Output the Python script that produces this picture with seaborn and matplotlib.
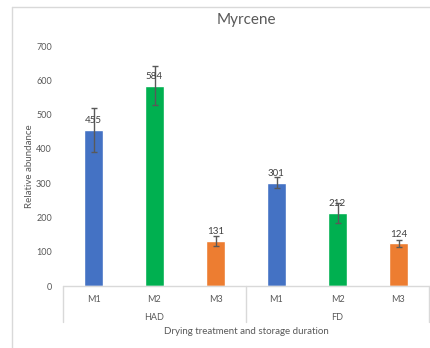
import matplotlib
matplotlib.use("Agg")
import matplotlib.pyplot as plt
from matplotlib.lines import Line2D
import seaborn as sns
import pandas as pd

# Myrcene relative abundance by drying treatment and storage duration
treatments = ["HAD", "HAD", "HAD", "FD", "FD", "FD"]
storage = ["M1", "M2", "M3", "M1", "M2", "M3"]
abundance = [455, 584, 131, 301, 212, 124]
errors = [64, 57, 14, 16, 29, 11]
yticks = [0, 100, 200, 300, 400, 500, 600, 700]

sns.set_theme(style="white")
plt.rcParams["font.family"] = ["Lato", "DejaVu Sans"]

text_gray = "#595959"
line_gray = "#D9D9D9"
colors = {"M1": "#4472C4", "M2": "#00B050", "M3": "#ED7D31"}

df = pd.DataFrame({
    "key": [f"{t}-{s}" for t, s in zip(treatments, storage)],
    "storage": storage,
    "abundance": abundance,
})

fig = plt.figure(figsize=(4.31, 3.48), dpi=100)
ax = fig.add_axes([63 / 431, 62 / 348, 366 / 431, 240 / 348])

sns.barplot(data=df, x="key", y="abundance", hue="storage", palette=colors,
            dodge=False, width=0.32, legend=False, ax=ax, errorbar=None,
            saturation=1)

# bar centres come from the drawn patches
bars = sorted(ax.patches, key=lambda p: p.get_x())
centers = [b.get_x() + b.get_width() / 2 for b in bars]

ax.errorbar(centers, abundance, yerr=errors, fmt="none", ecolor=text_gray,
            elinewidth=1, capsize=2.2, capthick=1)

for cx, v in zip(centers, abundance):
    ax.annotate(f"{v}", (cx, v), xytext=(0, 3.5), textcoords="offset points",
                ha="center", va="bottom", fontsize=7, color="#404040")

ax.set_ylim(0, 700)
ax.set_xlim(-0.5, 5.5)
ax.set_yticks(yticks)
ax.set_yticklabels([str(t) for t in yticks], fontsize=6.5, color=text_gray)
ax.tick_params(axis="y", length=0, pad=8)
ax.set_xticks([])
ax.set_xlabel("")
ax.set_ylabel("Relative abundance", fontsize=7, color=text_gray)
ax.yaxis.set_label_coords(-29 / 366, 0.5)
for s in ax.spines.values():
    s.set_visible(False)

fig.text(246 / 431, 1 - 20 / 348, "Myrcene", ha="center", va="center",
         fontsize=11, color=text_gray)

# category table under the bars
tr = ax.get_xaxis_transform()
ax.plot([-0.5, 5.5], [0, 0], color=line_gray, lw=1, transform=tr, clip_on=False)
for xv in [-0.5, 2.5, 5.5]:
    ax.plot([xv, xv], [0, -36 / 240], color=line_gray, lw=1, transform=tr,
            clip_on=False)
for i, s in enumerate(storage):
    ax.text(i, -13 / 240, s, transform=tr, ha="center", va="center",
            fontsize=6.5, color=text_gray)
for gx, g in [(1, "HAD"), (4, "FD")]:
    ax.text(gx, -31 / 240, g, transform=tr, ha="center", va="center",
            fontsize=6.5, color=text_gray)
ax.text(2.5, -45 / 240, "Drying treatment and storage duration", transform=tr,
        ha="center", va="center", fontsize=7, color=text_gray)

# chart area border
fig.add_artist(Line2D([12 / 431, 1], [1 - 7 / 348, 1 - 7 / 348], color=line_gray, lw=1))
fig.add_artist(Line2D([12 / 431, 12 / 431], [0, 1 - 7 / 348], color=line_gray, lw=1))

fig.savefig("out.png", dpi=100)
